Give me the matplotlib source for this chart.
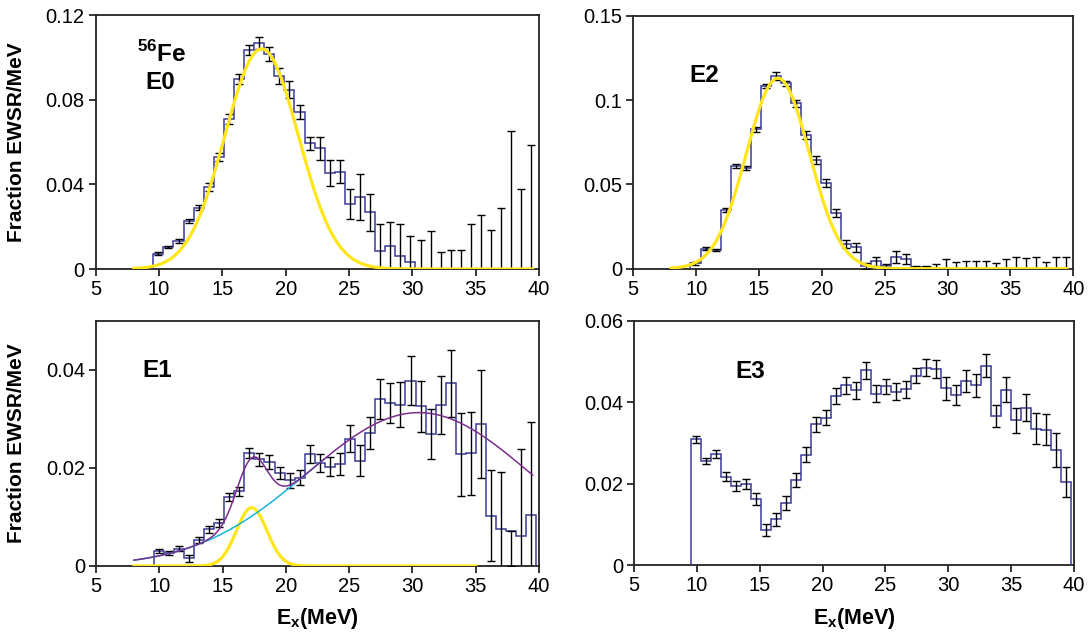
"""
56Fe strength distributions (E0, E1, E2, E3) as fraction of EWSR per MeV,
histogram with error bars plus the Gaussian fits drawn over them.
"""

import numpy as np

import matplotlib
matplotlib.use("Agg")
import matplotlib.pyplot as plt
from matplotlib.ticker import FuncFormatter

plt.rcParams["font.family"] = ["Liberation Sans", "DejaVu Sans"]
plt.rcParams["mathtext.fontset"] = "custom"
plt.rcParams["mathtext.rm"] = "Liberation Sans"
plt.rcParams["mathtext.bf"] = "Liberation Sans:bold"

# ---- binning (38 bins of ~0.8 MeV) ---------------------------------------
BIN_START = 9.55
BIN_WIDTH = 0.796
N_BINS = 38

# ---- E0 ------------------------------------------------------------------
e0_vals = [0.0073, 0.0104, 0.0133, 0.0227, 0.0290, 0.0388, 0.0527, 0.0710,
           0.0896, 0.1035, 0.1067, 0.1016, 0.0912, 0.0846, 0.0743, 0.0593,
           0.0570, 0.0454, 0.0459, 0.0306, 0.0341, 0.0268, 0.0085, 0.0107,
           0.0060, 0.0033, 0, 0, 0, 0, 0, 0, 0, 0, 0, 0, 0, 0]
e0_err = [0.0006, 0.0006, 0.0008, 0.0010, 0.0013, 0.0019, 0.0019, 0.0024,
          0.0024, 0.0024, 0.0028, 0.0032, 0.0040, 0.0040, 0.0032, 0.0032,
          0.0055, 0.0060, 0.0055, 0.0071, 0.0110, 0.0087, 0.0126, 0.0117,
          0.0155, 0.0122, 0.0139, 0.0180, 0.0080, 0.0092, 0.0088, 0.0215,
          0.0256, 0.0183, 0.0286, 0.0653, 0.0379, 0.0587]
e0_fit = (0.104, 18.1, 2.9)          # amplitude, centroid, sigma

# ---- E2 ------------------------------------------------------------------
e2_vals = [0.0032, 0.0119, 0.0110, 0.0348, 0.0609, 0.0597, 0.0826, 0.1083,
           0.1142, 0.1099, 0.0980, 0.0792, 0.0644, 0.0506, 0.0328, 0.0146,
           0.0126, 0.0016, 0.0043, 0.0016, 0.0067, 0.0059, 0.0012, 0.0010,
           0, 0, 0, 0, 0, 0, 0, 0, 0, 0, 0, 0, 0, 0]
e2_err = [0.0010, 0.0008, 0.0008, 0.0010, 0.0010, 0.0010, 0.0014, 0.0014,
          0.0024, 0.0016, 0.0020, 0.0024, 0.0024, 0.0024, 0.0024, 0.0024,
          0.0028, 0.0020, 0.0028, 0.0010, 0.0036, 0.0030, 0.0006, 0.0006,
          0.0028, 0.0055, 0.0041, 0.0047, 0.0047, 0.0047, 0.0032, 0.0055,
          0.0067, 0.0061, 0.0067, 0.0041, 0.0067, 0.0071]
e2_fit = (0.113, 16.5, 2.5)

# ---- E1 ------------------------------------------------------------------
e1_vals = [0.0030, 0.0026, 0.0035, 0.0016, 0.0053, 0.0075, 0.0087, 0.0140,
           0.0152, 0.0231, 0.0218, 0.0212, 0.0190, 0.0175, 0.0180, 0.0228,
           0.0210, 0.0203, 0.0208, 0.0260, 0.0215, 0.0271, 0.0340, 0.0332,
           0.0329, 0.0378, 0.0326, 0.0269, 0.0329, 0.0373, 0.0228, 0.0230,
           0.0290, 0.0103, 0.0075, 0.0072, 0.0061, 0.0105]
e1_err_lo = [0.0004, 0.0004, 0.0005, 0.0007, 0.0006, 0.0007, 0.0008, 0.0008,
             0.0010, 0.0010, 0.0013, 0.0014, 0.0012, 0.0015, 0.0015, 0.0018,
             0.0018, 0.0020, 0.0022, 0.0027, 0.0031, 0.0033, 0.0041, 0.0041,
             0.0046, 0.0050, 0.0052, 0.0051, 0.0059, 0.0068, 0.0085, 0.0085,
             0.0110, 0.0093, 0.0116, 0.0072, 0.0178, 0.0188]
e1_err_hi = [0.0004, 0.0004, 0.0005, 0.0007, 0.0006, 0.0007, 0.0008, 0.0008,
             0.0010, 0.0010, 0.0013, 0.0014, 0.0012, 0.0015, 0.0015, 0.0018,
             0.0018, 0.0020, 0.0022, 0.0027, 0.0031, 0.0033, 0.0041, 0.0041,
             0.0046, 0.0050, 0.0052, 0.0051, 0.0059, 0.0068, 0.0085, 0.0085,
             0.0110, 0.0093, 0.0116, 0.0000, 0.0178, 0.0188]
e1_fit_pdr = (0.0119, 17.3, 1.2)     # low-lying peak (yellow)
e1_fit_gdr = (0.0313, 30.5, 8.8)     # broad component (cyan)

# ---- E3 ------------------------------------------------------------------
e3_vals = [0.0309, 0.0256, 0.0273, 0.0217, 0.0194, 0.0199, 0.0162, 0.0087,
           0.0113, 0.0152, 0.0209, 0.0271, 0.0346, 0.0362, 0.0415, 0.0441,
           0.0429, 0.0478, 0.0421, 0.0439, 0.0426, 0.0432, 0.0465, 0.0485,
           0.0482, 0.0434, 0.0418, 0.0452, 0.0441, 0.0490, 0.0366, 0.0431,
           0.0356, 0.0387, 0.0335, 0.0333, 0.0282, 0.0205]
e3_err = [0.0008, 0.0008, 0.0010, 0.0011, 0.0013, 0.0013, 0.0015, 0.0015,
          0.0016, 0.0017, 0.0018, 0.0018, 0.0018, 0.0019, 0.0019, 0.0020,
          0.0020, 0.0020, 0.0020, 0.0019, 0.0021, 0.0021, 0.0019, 0.0020,
          0.0022, 0.0028, 0.0025, 0.0027, 0.0027, 0.0028, 0.0028, 0.0031,
          0.0031, 0.0034, 0.0038, 0.0037, 0.0042, 0.0037]

HIST = "#3a3a9a"
YELLOW = "#ffe61a"
CYAN = "#18b4d8"
PURPLE = "#7b2d8e"
FRAME = "#222222"

edges = BIN_START + BIN_WIDTH * np.arange(N_BINS + 1)
centers = 0.5 * (edges[:-1] + edges[1:])


def gauss(x, amp, mu, sig):
    return amp * np.exp(-0.5 * ((x - mu) / sig) ** 2)


def style(ax, ymax, ystep, ylabel=False, xlabel=False):
    ax.set_xlim(5, 40)
    ax.set_ylim(0, ymax)
    ax.set_xticks(np.arange(5, 41, 5))
    ax.set_yticks(np.arange(0, ymax + 1e-9, ystep))
    ax.yaxis.set_major_formatter(FuncFormatter(lambda v, p: f"{v:g}"))
    ax.tick_params(direction="out", length=5, width=1.1, labelsize=14.5,
                   pad=3, colors="k")
    for sp in ax.spines.values():
        sp.set_color(FRAME)
        sp.set_linewidth(1.3)
    if ylabel:
        ax.set_ylabel("Fraction EWSR/MeV", fontsize=15, fontweight="bold")
        ax.yaxis.set_label_coords(-0.157, 0.5)
    if xlabel:
        ax.set_xlabel(r"E$_\mathbf{x}$(MeV)", fontsize=15.5, fontweight="bold")
        ax.xaxis.set_label_coords(0.5, -0.165)


def data(ax, vals, err):
    ax.stairs(vals, edges, baseline=0, color=HIST, lw=1.1, zorder=3)
    ax.errorbar(centers, vals, yerr=err, fmt="none", ecolor="k",
                elinewidth=1.0, capsize=2.6, capthick=1.0, zorder=4)


fig = plt.figure(figsize=(10.9, 6.34), dpi=100)
ax0 = fig.add_axes([0.0878, 0.5757, 0.4067, 0.4006])
ax2 = fig.add_axes([0.5810, 0.5762, 0.4037, 0.3990])
ax1 = fig.add_axes([0.0881, 0.1073, 0.4064, 0.3864])
ax3 = fig.add_axes([0.5817, 0.1084, 0.4036, 0.3858])

# E0
data(ax0, e0_vals, e0_err)
xf = np.linspace(8, 39.5, 400)
ax0.plot(xf, gauss(xf, *e0_fit), color=YELLOW, lw=2.3, zorder=5)
style(ax0, 0.12, 0.04, ylabel=True)
ax0.text(0.093, 0.815, r"$^{\mathbf{56}}$Fe", transform=ax0.transAxes,
         fontsize=17.5, fontweight="bold", va="baseline")
ax0.text(0.113, 0.709, "E0", transform=ax0.transAxes,
         fontsize=17.5, fontweight="bold", va="baseline")

# E2
data(ax2, e2_vals, e2_err)
ax2.plot(xf, gauss(xf, *e2_fit), color=YELLOW, lw=2.3, zorder=5)
style(ax2, 0.15, 0.05)
ax2.text(0.127, 0.738, "E2", transform=ax2.transAxes,
         fontsize=17.5, fontweight="bold", va="baseline")

# E1
data(ax1, e1_vals, [e1_err_lo, e1_err_hi])
x_pdr = np.linspace(8, 35, 400)
x_bg = np.linspace(8, 23, 200)
ax1.plot(x_pdr, gauss(x_pdr, *e1_fit_pdr), color=YELLOW, lw=2.3, zorder=5)
ax1.plot(x_bg, gauss(x_bg, *e1_fit_gdr), color=CYAN, lw=1.1, zorder=5)
ax1.plot(xf, gauss(xf, *e1_fit_pdr) + gauss(xf, *e1_fit_gdr),
         color=PURPLE, lw=1.1, zorder=6)
style(ax1, 0.05, 0.02, ylabel=True, xlabel=True)
ax1.set_yticks([0, 0.02, 0.04])
ax1.text(0.104, 0.771, "E1", transform=ax1.transAxes,
         fontsize=17.5, fontweight="bold", va="baseline")

# E3
data(ax3, e3_vals, e3_err)
style(ax3, 0.06, 0.02, xlabel=True)
ax3.text(0.2295, 0.766, "E3", transform=ax3.transAxes,
         fontsize=17.5, fontweight="bold", va="baseline")

fig.savefig("out.png", dpi=100)
